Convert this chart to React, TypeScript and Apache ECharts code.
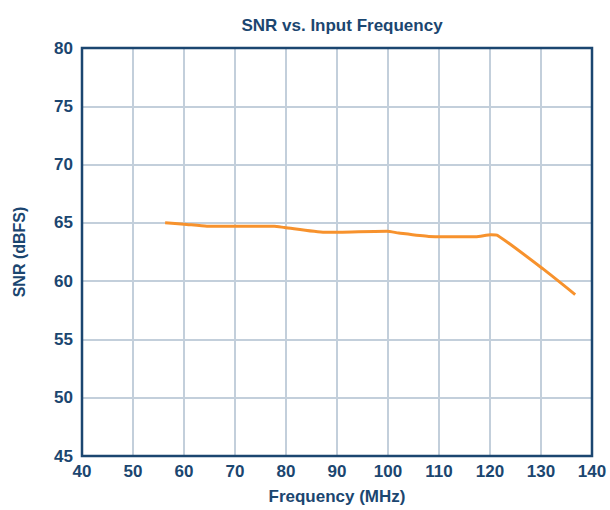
import React, { useEffect, useRef } from "react";
import * as echarts from "echarts";

const freqMHz = [56.3, 60, 64.5, 70, 77.7, 79.7, 87.6, 90, 99.8, 102.1, 108, 117.2, 120.2, 121.5, 130.4, 136.7];
const snrDBFS = [65.0, 64.89, 64.71, 64.7, 64.71, 64.6, 64.19, 64.2, 64.28, 64.13, 63.84, 63.81, 63.98, 63.92, 61.05, 58.85];

const titleText = "SNR vs. Input Frequency";
const xName = "Frequency (MHz)";
const yName = "SNR (dBFS)";

const NAVY = "#1b4670";
const GRID = "#c3cfdb";
const ORANGE = "#f7922d";
const FONT = "Liberation Sans";

export default function App() {
  const ref = useRef<HTMLDivElement>(null);
  useEffect(() => {
    document.body.style.margin = "0";
    const chart = echarts.init(ref.current!, null, { renderer: "svg" });
    chart.setOption({
      animation: false,
      backgroundColor: "#ffffff",
      title: {
        text: titleText,
        left: 337,
        top: 12,
        textAlign: "center",
        textStyle: { color: NAVY, fontFamily: FONT, fontSize: 17, fontWeight: "bold" },
      },
      grid: { left: 82, right: 18, top: 48, bottom: 54, containLabel: false },
      xAxis: {
        type: "value",
        min: 40,
        max: 140,
        interval: 10,
        name: xName,
        nameLocation: "middle",
        nameGap: 32,
        nameTextStyle: { color: NAVY, fontFamily: FONT, fontSize: 17, fontWeight: "bold" },
        axisLine: { show: true, lineStyle: { color: NAVY, width: 2 } },
        axisTick: { show: false },
        axisLabel: { color: NAVY, fontFamily: FONT, fontSize: 17, fontWeight: "bold", margin: 7 },
        splitLine: { show: true, lineStyle: { color: GRID, width: 2 } },
      },
      yAxis: {
        type: "value",
        min: 45,
        max: 80,
        interval: 5,
        name: yName,
        nameLocation: "middle",
        nameGap: 55,
        nameTextStyle: { color: NAVY, fontFamily: FONT, fontSize: 16, fontWeight: "bold" },
        axisLine: { show: true, lineStyle: { color: NAVY, width: 2 } },
        axisTick: { show: false },
        axisLabel: { color: NAVY, fontFamily: FONT, fontSize: 17, fontWeight: "bold", margin: 9 },
        splitLine: { show: true, lineStyle: { color: GRID, width: 2 } },
      },
      graphic: [
        {
          type: "rect",
          shape: { x: 82, y: 48, width: 510, height: 408 },
          style: { fill: "none", stroke: NAVY, lineWidth: 2.5 },
          z: 100,
          silent: true,
        },
      ],
      series: [
        {
          type: "line",
          data: freqMHz.map((f, i) => [f, snrDBFS[i]]),
          showSymbol: false,
          smooth: 0.2,
          lineStyle: { color: ORANGE, width: 3 },
          itemStyle: { color: ORANGE },
        },
      ],
    });
    return () => chart.dispose();
  }, []);
  return <div ref={ref} style={{ width: 610, height: 510 }} />;
}
